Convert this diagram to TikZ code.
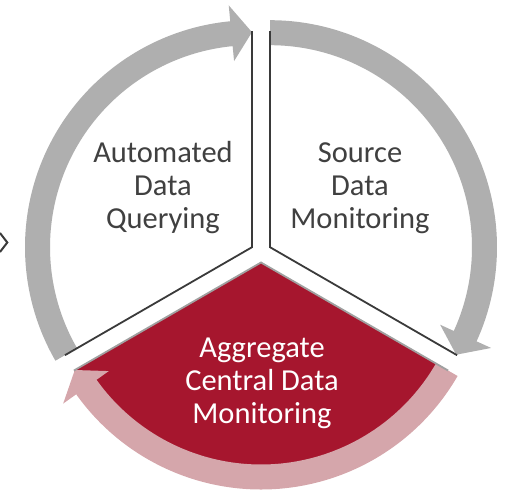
\documentclass[tikz,border=0pt]{standalone}
\usepackage{fontspec}
\setmainfont{Carlito}
\usetikzlibrary{calc}

\definecolor{bandgray}{RGB}{175,175,175}
\definecolor{bandpink}{RGB}{213,166,171}
\definecolor{segred}{RGB}{166,22,46}
\definecolor{edgedark}{RGB}{58,58,58}
\definecolor{edgelight}{RGB}{160,160,160}
\definecolor{textgray}{RGB}{64,64,64}

% curved arrow band around a segment:
% #1 apex, #2 start angle, #3 end angle (clockwise), #4 colour
\newcommand\segarrow[4]{%
  \begin{scope}[shift={(#1)}]
    \fill[#4] (#2:227) arc[start angle=#2, end angle=#3+5.5, radius=227]
      -- (#3+5.5:243) -- (#3:215) -- (#3+5.5:187) -- (#3+5.5:202)
      arc[start angle=#3+5.5, end angle=#2, radius=202] -- cycle;
  \end{scope}}

\tikzset{
  seglabel/.style={align=center, inner sep=0pt,
    font=\fontsize{30.5}{33}\selectfont},
  segedge/.style={line width=1.8pt, edgedark, line join=miter},
}

\begin{document}
\begin{tikzpicture}[x=1pt, y=1pt]
  \useasboundingbox (0,0) rectangle (510,-492);

  % apexes of the three exploded segments
  \coordinate (apexL) at (252,-247.2);
  \coordinate (apexR) at (270,-247.2);
  \coordinate (apexB) at (261,-262.5);

  % segment fills
  \fill[white] (apexL) -- ++(90:216)
    arc[start angle=90, end angle=210, radius=216] -- cycle;
  \fill[white] (apexR) -- ++(-30:216)
    arc[start angle=-30, end angle=90, radius=216] -- cycle;
  \fill[segred] (apexB) -- ++(210:216)
    arc[start angle=210, end angle=330, radius=216] -- cycle;

  % arrow bands
  \segarrow{apexL}{210}{90}{bandgray}
  \segarrow{apexR}{90}{-30}{bandgray}
  \segarrow{apexB}{330}{210}{bandpink}

  % straight edges of the segments
  \draw[segedge] ($(apexL)+(90:216)$) -- (apexL) -- ($(apexL)+(210:216)$);
  \draw[segedge] ($(apexR)+(90:216)$) -- (apexR) -- ($(apexR)+(-30:216)$);
  \draw[line width=1.8pt, edgelight]
    ($(apexB)+(210:216)$) -- (apexB) -- ($(apexB)+(330:216)$);

  % chevron at the left border
  \draw[line width=2pt, edgedark] (0,-233) -- (7.3,-242.5) -- (0,-252);

  % labels
  \node[seglabel, textgray] (labQuery) at (163,-188)
    {Automated\\Data\\Querying};
  \node[seglabel, textgray] (labSource) at (360,-188)
    {Source\\Data\\Monitoring};
  \node[seglabel, white] (labCentral) at (262,-383)
    {Aggregate\\Central Data\\Monitoring};
\end{tikzpicture}
\end{document}
